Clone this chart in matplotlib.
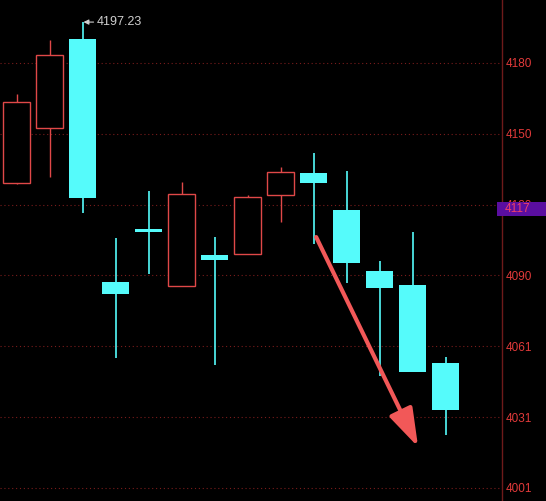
import matplotlib
matplotlib.use('Agg')
import matplotlib.pyplot as plt
from matplotlib.patches import Rectangle

# ---- data ----
opens  = [4129.46, 4152.63, 4190.11, 4087.77, 4110.09, 4086.09, 4099.14,
          4099.56, 4124.41, 4133.67, 4118.09, 4092.40, 4086.51, 4053.66]
highs  = [4166.94, 4189.69, 4197.23, 4106.30, 4126.09, 4129.88, 4106.72,
          4124.41, 4136.20, 4142.10, 4134.52, 4096.61, 4108.83, 4056.18]
lows   = [4129.04, 4131.99, 4116.83, 4055.76, 4091.14, 4086.09, 4052.82,
          4099.56, 4113.04, 4103.77, 4087.35, 4048.18, 4049.87, 4023.34]
closes = [4163.58, 4183.37, 4123.15, 4082.72, 4108.83, 4124.83, 4097.04,
          4123.57, 4134.10, 4129.46, 4095.77, 4085.24, 4049.87, 4033.86]

tick_values = [4180.00, 4150.17, 4120.34, 4090.51, 4060.68, 4030.85, 4001.02]
tick_labels = ['4180', '4150', '4120', '4090', '4061', '4031', '4001']

high_label = 4197.23
last_label = '4117'

arrow_start = (9.08, 4106.7)
arrow_end = (12.17, 4018.3)

UP = '#e04848'
DOWN = '#55fbfb'
GRID = '#7a1c1c'
AXIS_TXT = '#e23a3a'

fig = plt.figure(figsize=(5.46, 5.01), dpi=100, facecolor='black')
ax = fig.add_axes([0, 0, 502/546, 1], facecolor='black')

n = len(opens)
xs = list(range(n))

for y in tick_values:
    ax.axhline(y, color=GRID, lw=0.8, ls=(0, (1, 2.5)), zorder=0)

for i in xs:
    o, h, l, c = opens[i], highs[i], lows[i], closes[i]
    top, bot = max(o, c), min(o, c)
    if c >= o:
        ax.vlines(i, top, h, color=UP, lw=1.0, zorder=2)
        ax.vlines(i, l, bot, color=UP, lw=1.0, zorder=2)
        ax.bar(i, top - bot, bottom=bot, width=0.79, facecolor='black',
               edgecolor=UP, linewidth=1.0, zorder=3)
    else:
        ax.vlines(i, l, h, color=DOWN, lw=1.2, zorder=2)
        ax.bar(i, top - bot, bottom=bot, width=0.818, facecolor=DOWN,
               edgecolor='none', linewidth=0, zorder=3)

# highest-price marker
imax = highs.index(max(highs))
ax.annotate(f'{high_label:.2f}', xy=(imax + 0.03, high_label),
            xytext=(imax + 0.42, high_label), textcoords='data',
            color='#cfcfcf', fontsize=9, family='Liberation Sans',
            va='center', ha='left',
            arrowprops=dict(arrowstyle='-|>,head_length=0.3,head_width=0.15',
                            color='#cfcfcf', lw=0.8, shrinkA=0, shrinkB=0,
                            mutation_scale=10))

# big red arrow
ax.annotate('', xy=arrow_end, xytext=arrow_start,
            arrowprops=dict(arrowstyle='-|>,head_length=1.3,head_width=0.42',
                            mutation_scale=18, color='#f25858', lw=3,
                            shrinkA=0, shrinkB=0), zorder=5)

ax.set_xlim(-0.5, 14.712)
ax.set_ylim(3995.54, 4206.53)

for s in ['top', 'left', 'bottom']:
    ax.spines[s].set_visible(False)
ax.spines['right'].set_color('#6e1a1a')
ax.spines['right'].set_linewidth(1.0)
ax.set_xticks([])
ax.yaxis.tick_right()
ax.set_yticks(tick_values)
ax.set_yticklabels(tick_labels)
ax.tick_params(axis='y', length=0, pad=3, colors=AXIS_TXT, labelsize=8.5)
for t in ax.get_yticklabels():
    t.set_family('Liberation Sans')

# last price box (covers the 4120 label as in the reference)
fig.patches.append(Rectangle((497/546, 1 - 216/501), 49/546, 14/501,
                             transform=fig.transFigure, facecolor='#5a0ea0',
                             edgecolor='none', zorder=5))
fig.text(505/546, 1 - 209/501, last_label, color='#f0406a', fontsize=8.5,
         family='Liberation Sans', va='center', ha='left', zorder=6)

fig.savefig('out.png', dpi=100, facecolor='black')
